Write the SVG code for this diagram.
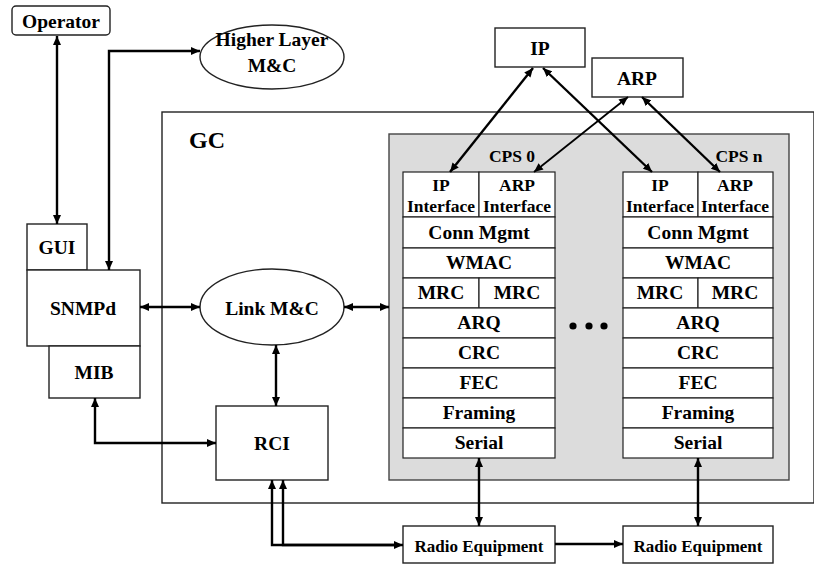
<svg xmlns="http://www.w3.org/2000/svg" width="814" height="565" viewBox="0 0 814 565" font-family="'Liberation Serif', Tinos, 'Times New Roman', 'DejaVu Serif', serif">
  <style>
    text { font-family: "Liberation Serif", Tinos, "Times New Roman", "DejaVu Serif", serif; font-weight: bold; fill: #000; text-anchor: middle; }
    .t20 { font-size: 19.5px; }
    .t18 { font-size: 17.5px; }
    .t17 { font-size: 17px; }
    .box { fill: #fff; stroke: #222; stroke-width: 1.4; }
    .frame { fill: none; stroke: #222; stroke-width: 1.4; }
    .shade { fill: #dcdcdc; stroke: #444; stroke-width: 1.4; }
    .row { fill: #fff; stroke: #222; stroke-width: 1.2; }
    .wire { fill: none; stroke: #000; stroke-width: 2.4; marker-start: url(#head); marker-end: url(#head); }
    .wire1 { fill: none; stroke: #000; stroke-width: 2.4; marker-end: url(#head); }
    .wire0 { fill: none; stroke: #000; stroke-width: 2.4; marker-start: url(#head); }
  </style>
  <defs>
    <marker id="head" markerUnits="userSpaceOnUse" markerWidth="10" markerHeight="8" refX="9" refY="4" orient="auto-start-reverse">
      <path d="M0,0 L9,4 L0,8 z" fill="#000"/>
    </marker>
  </defs>

  <rect width="814" height="565" fill="#fff"/>

  <!-- GC enclosure -->
  <g id="gc">
    <rect class="frame" x="162" y="112" width="652" height="391"/>
    <text x="207" y="148" style="font-size:24px">GC</text>
  </g>

  <!-- shaded CPS area -->
  <g id="cps-area">
    <rect class="shade" x="389" y="134" width="400" height="346"/>
    <circle cx="573" cy="326" r="3.6" fill="#000"/>
    <circle cx="589" cy="326" r="3.6" fill="#000"/>
    <circle cx="604" cy="326" r="3.6" fill="#000"/>
  </g>

  <g id="operator">
    <rect class="box" x="12" y="6" width="98" height="29" rx="4"/>
    <text class="t20" x="61" y="28">Operator</text>
  </g>

  <g id="higher-layer">
    <ellipse class="box" cx="272" cy="57" rx="72" ry="32"/>
    <text class="t20" x="272" y="46">Higher Layer</text>
    <text class="t20" x="272" y="72">M&amp;C</text>
  </g>

  <g id="ip">
    <rect class="box" x="495" y="28" width="90" height="39"/>
    <text class="t20" x="540" y="55">IP</text>
  </g>

  <g id="arp">
    <rect class="box" x="592" y="58" width="91" height="39"/>
    <text class="t20" x="637" y="85">ARP</text>
  </g>

  <g id="gui">
    <rect class="box" x="27" y="224" width="60" height="46"/>
    <text class="t20" x="57" y="254">GUI</text>
  </g>

  <g id="snmpd">
    <rect class="box" x="27" y="270" width="113" height="76"/>
    <text class="t20" x="83" y="315">SNMPd</text>
  </g>

  <g id="mib">
    <rect class="box" x="49" y="346" width="91" height="52"/>
    <text class="t20" x="94" y="379">MIB</text>
  </g>

  <g id="link-mc">
    <ellipse class="box" cx="272" cy="307" rx="72" ry="38"/>
    <text class="t20" x="272" y="315">Link M&amp;C</text>
  </g>

  <g id="rci">
    <rect class="box" x="216" y="406" width="112" height="74"/>
    <text class="t20" x="272" y="450">RCI</text>
  </g>

  <!-- protocol stack, instance 0 -->
  <g id="cps0">
    <text class="t18" x="512" y="162">CPS 0</text>
    <rect class="row" x="403" y="172" width="76" height="45"/>
    <rect class="row" x="479" y="172" width="76" height="45"/>
    <text class="t18" x="441" y="191">IP</text>
    <text class="t18" x="441" y="212">Interface</text>
    <text class="t18" x="517" y="191">ARP</text>
    <text class="t18" x="517" y="212">Interface</text>
    <rect class="row" x="403" y="217" width="152" height="31"/>
    <text class="t20" x="479" y="239">Conn Mgmt</text>
    <rect class="row" x="403" y="248" width="152" height="30"/>
    <text class="t20" x="479" y="269">WMAC</text>
    <rect class="row" x="403" y="278" width="76" height="30"/>
    <rect class="row" x="479" y="278" width="76" height="30"/>
    <text class="t20" x="441" y="299">MRC</text>
    <text class="t20" x="517" y="299">MRC</text>
    <rect class="row" x="403" y="308" width="152" height="30"/>
    <text class="t20" x="479" y="329">ARQ</text>
    <rect class="row" x="403" y="338" width="152" height="30"/>
    <text class="t20" x="479" y="359">CRC</text>
    <rect class="row" x="403" y="368" width="152" height="30"/>
    <text class="t20" x="479" y="389">FEC</text>
    <rect class="row" x="403" y="398" width="152" height="30"/>
    <text class="t20" x="479" y="419">Framing</text>
    <rect class="row" x="403" y="428" width="152" height="30"/>
    <text class="t20" x="479" y="449">Serial</text>
  </g>

  <!-- protocol stack, instance n -->
  <g id="cpsn">
    <text class="t18" x="739" y="162">CPS n</text>
    <rect class="row" x="623" y="172" width="75" height="45"/>
    <rect class="row" x="698" y="172" width="75" height="45"/>
    <text class="t18" x="660" y="191">IP</text>
    <text class="t18" x="660" y="212">Interface</text>
    <text class="t18" x="735" y="191">ARP</text>
    <text class="t18" x="735" y="212">Interface</text>
    <rect class="row" x="623" y="217" width="150" height="31"/>
    <text class="t20" x="698" y="239">Conn Mgmt</text>
    <rect class="row" x="623" y="248" width="150" height="30"/>
    <text class="t20" x="698" y="269">WMAC</text>
    <rect class="row" x="623" y="278" width="75" height="30"/>
    <rect class="row" x="698" y="278" width="75" height="30"/>
    <text class="t20" x="660" y="299">MRC</text>
    <text class="t20" x="735" y="299">MRC</text>
    <rect class="row" x="623" y="308" width="150" height="30"/>
    <text class="t20" x="698" y="329">ARQ</text>
    <rect class="row" x="623" y="338" width="150" height="30"/>
    <text class="t20" x="698" y="359">CRC</text>
    <rect class="row" x="623" y="368" width="150" height="30"/>
    <text class="t20" x="698" y="389">FEC</text>
    <rect class="row" x="623" y="398" width="150" height="30"/>
    <text class="t20" x="698" y="419">Framing</text>
    <rect class="row" x="623" y="428" width="150" height="30"/>
    <text class="t20" x="698" y="449">Serial</text>
  </g>

  <g id="radio-0">
    <rect class="box" x="403" y="526" width="152" height="37"/>
    <text class="t17" x="479" y="552">Radio Equipment</text>
  </g>

  <g id="radio-n">
    <rect class="box" x="623" y="526" width="150" height="37"/>
    <text class="t17" x="698" y="552">Radio Equipment</text>
  </g>

  <!-- connectors -->
  <g id="connectors">
    <path class="wire" d="M57,36 L57,224"/>
    <path class="wire" d="M109,270 L109,51 L200,51"/>
    <path class="wire" d="M140,307 L200,307"/>
    <path class="wire" d="M344,307 L389,307"/>
    <path class="wire" d="M276,345 L276,406"/>
    <path class="wire" d="M95,398 L95,443 L216,443"/>
    <path class="wire" d="M272,480 L272,545 L403,545"/>
    <path class="wire0" d="M283,480 L283,545 L395,545"/>
    <path class="wire1" d="M555,544 L623,544"/>
    <path class="wire" d="M479,458 L479,526"/>
    <path class="wire" d="M698,458 L698,526"/>
    <path class="wire" d="M533,68 L450,172"/>
    <path class="wire" d="M543,68 L652,172"/>
    <path class="wire" d="M628,97 L534,172" style="stroke-width:1.8"/>
    <path class="wire" d="M642,97 L720,172"/>
  </g>
</svg>
